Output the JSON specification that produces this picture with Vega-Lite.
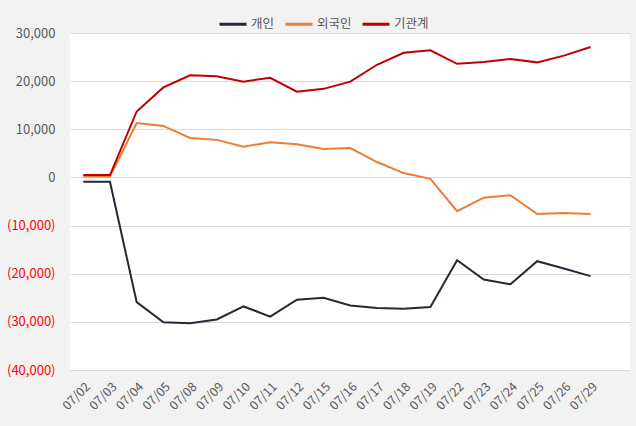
{
  "$schema": "https://vega.github.io/schema/vega-lite/v6.json",
  "width": 560,
  "height": 337,
  "autosize": "none",
  "padding": {"left": 70, "top": 33, "right": 6, "bottom": 56},
  "background": "#f2f2f2",
  "config": {
    "view": {"fill": "white", "stroke": null},
    "font": "Noto Sans CJK KR"
  },
  "data": {
    "values": [
      {"date": "07/02", "series": "개인", "value": -900},
      {"date": "07/03", "series": "개인", "value": -900},
      {"date": "07/04", "series": "개인", "value": -25900},
      {"date": "07/05", "series": "개인", "value": -30100},
      {"date": "07/08", "series": "개인", "value": -30300},
      {"date": "07/09", "series": "개인", "value": -29500},
      {"date": "07/10", "series": "개인", "value": -26800},
      {"date": "07/11", "series": "개인", "value": -28900},
      {"date": "07/12", "series": "개인", "value": -25400},
      {"date": "07/15", "series": "개인", "value": -25000},
      {"date": "07/16", "series": "개인", "value": -26600},
      {"date": "07/17", "series": "개인", "value": -27100},
      {"date": "07/18", "series": "개인", "value": -27300},
      {"date": "07/19", "series": "개인", "value": -26900},
      {"date": "07/22", "series": "개인", "value": -17200},
      {"date": "07/23", "series": "개인", "value": -21200},
      {"date": "07/24", "series": "개인", "value": -22200},
      {"date": "07/25", "series": "개인", "value": -17400},
      {"date": "07/26", "series": "개인", "value": -18900},
      {"date": "07/29", "series": "개인", "value": -20500},
      {"date": "07/02", "series": "외국인", "value": 200},
      {"date": "07/03", "series": "외국인", "value": 200},
      {"date": "07/04", "series": "외국인", "value": 11300},
      {"date": "07/05", "series": "외국인", "value": 10700},
      {"date": "07/08", "series": "외국인", "value": 8200},
      {"date": "07/09", "series": "외국인", "value": 7800},
      {"date": "07/10", "series": "외국인", "value": 6400},
      {"date": "07/11", "series": "외국인", "value": 7300},
      {"date": "07/12", "series": "외국인", "value": 6900},
      {"date": "07/15", "series": "외국인", "value": 5900},
      {"date": "07/16", "series": "외국인", "value": 6100},
      {"date": "07/17", "series": "외국인", "value": 3200},
      {"date": "07/18", "series": "외국인", "value": 900},
      {"date": "07/19", "series": "외국인", "value": -300},
      {"date": "07/22", "series": "외국인", "value": -7000},
      {"date": "07/23", "series": "외국인", "value": -4200},
      {"date": "07/24", "series": "외국인", "value": -3700},
      {"date": "07/25", "series": "외국인", "value": -7600},
      {"date": "07/26", "series": "외국인", "value": -7400},
      {"date": "07/29", "series": "외국인", "value": -7600},
      {"date": "07/02", "series": "기관계", "value": 500},
      {"date": "07/03", "series": "기관계", "value": 500},
      {"date": "07/04", "series": "기관계", "value": 13700},
      {"date": "07/05", "series": "기관계", "value": 18700},
      {"date": "07/08", "series": "기관계", "value": 21200},
      {"date": "07/09", "series": "기관계", "value": 21000},
      {"date": "07/10", "series": "기관계", "value": 19900},
      {"date": "07/11", "series": "기관계", "value": 20700},
      {"date": "07/12", "series": "기관계", "value": 17800},
      {"date": "07/15", "series": "기관계", "value": 18400},
      {"date": "07/16", "series": "기관계", "value": 19900},
      {"date": "07/17", "series": "기관계", "value": 23400},
      {"date": "07/18", "series": "기관계", "value": 25900},
      {"date": "07/19", "series": "기관계", "value": 26400},
      {"date": "07/22", "series": "기관계", "value": 23600},
      {"date": "07/23", "series": "기관계", "value": 24000},
      {"date": "07/24", "series": "기관계", "value": 24600},
      {"date": "07/25", "series": "기관계", "value": 23900},
      {"date": "07/26", "series": "기관계", "value": 25300},
      {"date": "07/29", "series": "기관계", "value": 27100}
    ]
  },
  "mark": {"type": "line", "strokeWidth": 2},
  "encoding": {
    "x": {
      "field": "date",
      "type": "ordinal",
      "sort": null,
      "scale": {"type": "point", "padding": 0.987, "align": 0.252},
      "axis": {
        "title": null,
        "labelAngle": -45,
        "ticks": false,
        "domain": false,
        "grid": false,
        "labelFontSize": 12.5,
        "labelColor": "#595959",
        "labelPadding": 10
      }
    },
    "y": {
      "field": "value",
      "type": "quantitative",
      "scale": {"domain": [-40000, 30000], "nice": false, "zero": false},
      "axis": {
        "title": null,
        "values": [-40000, -30000, -20000, -10000, 0, 10000, 20000, 30000],
        "grid": true,
        "gridColor": "#d9d9d9",
        "domain": false,
        "ticks": false,
        "labelPadding": 15,
        "labelFontSize": 13,
        "labelExpr": "datum.value < 0 ? '(' + format(-datum.value, ',') + ')' : format(datum.value, ',')",
        "labelColor": {"condition": {"test": "datum.value < 0", "value": "#ff0000"}, "value": "#595959"}
      }
    },
    "color": {
      "field": "series",
      "type": "nominal",
      "scale": {"domain": ["개인", "외국인", "기관계"], "range": ["#222A35", "#ED7D31", "#C00000"]},
      "legend": {
        "title": null,
        "orient": "none",
        "legendX": 148,
        "legendY": -24,
        "direction": "horizontal",
        "symbolType": "stroke",
        "symbolSize": 729,
        "symbolStrokeWidth": 3,
        "labelFontSize": 12.5,
        "labelColor": "#595959",
        "labelOffset": 3,
        "columnPadding": 4
      }
    }
  }
}
